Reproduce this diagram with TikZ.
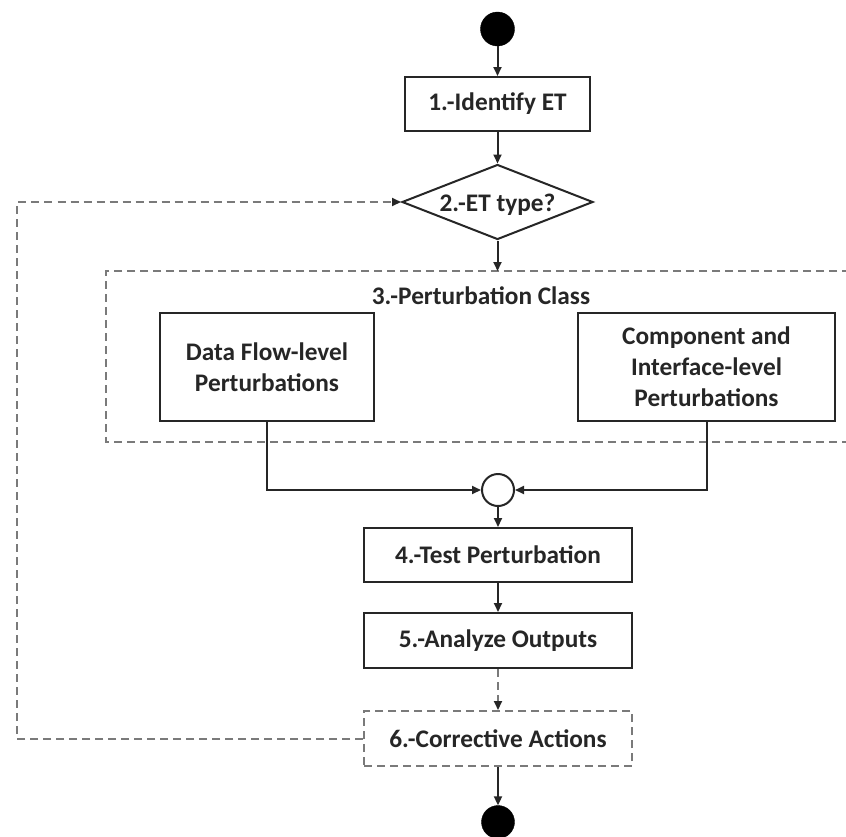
\documentclass[tikz,border=0pt]{standalone}
\usepackage{fontspec}
\setmainfont{Carlito}
\usetikzlibrary{arrows.meta,shapes.geometric}
\definecolor{lineblk}{HTML}{262626}
\definecolor{dashgray}{HTML}{7A7A7A}
\tikzset{
  txt/.style={font=\fontsize{25.3}{31}\selectfont\bfseries, text=black!85, align=center},
  box/.style={txt, draw=lineblk, line width=2pt, rectangle, inner sep=0pt, fill=white},
  dbox/.style={box, draw=dashgray, dash pattern=on 8pt off 5pt},
  decision/.style={draw=lineblk, line width=2pt, diamond, inner sep=0pt, minimum width=191pt, minimum height=75pt},
  dot/.style={circle, fill=black, draw=black, minimum size=34pt, inner sep=0pt},
  joint/.style={circle, fill=white, draw=lineblk, line width=2pt, minimum size=32pt, inner sep=0pt},
  arr/.style={draw=lineblk, line width=2pt, -{Triangle[length=9pt,width=8pt]}},
  darr/.style={draw=dashgray, line width=2pt, dash pattern=on 8pt off 5pt, -{Triangle[length=9pt,width=8pt,fill=lineblk,color=lineblk]}},
  dline/.style={draw=dashgray, line width=2pt, dash pattern=on 8pt off 5pt}
}
\begin{document}
\begin{tikzpicture}[x=1pt, y=-1pt]
\clip (0,0) rectangle (846,836);
\fill[white] (0,0) rectangle (846,836);

% group (dashed, open to the right edge)
\draw[dline] (850,271) -- (106,271) -- (106,442) -- (850,442);
\node[txt] (gtitle) at (481,296) {3.-Perturbation Class};
\coordinate (gtop) at (497.5,271);

\node[dot] (start) at (497.5,29) {};
\node[box, minimum width=185pt, minimum height=54pt] (b1) at (497.5,104) {1.-Identify ET};
\node[decision, label={[txt, yshift=-3pt]center:2.-ET type?}] (d2) at (497.5,202) {};

\node[box, minimum width=214pt, minimum height=108pt] (bDF) at (267,367) {Data Flow-level\\Perturbations};
\node[box, minimum width=257pt, minimum height=108pt] (bCI) at (706.5,367) {Component and\\Interface-level\\Perturbations};

\node[joint] (join) at (498,490) {};
\node[box, minimum width=268pt, minimum height=54pt] (b4) at (498,555) {4.-Test Perturbation};
\node[box, minimum width=268pt, minimum height=55pt] (b5) at (498,640.5) {5.-Analyze Outputs};
\node[dbox, minimum width=268pt, minimum height=55pt] (b6) at (498,738.5) {6.-Corrective Actions};
\node[dot, minimum size=33pt] (end) at (498,822) {};

\coordinate (fb) at (17,202);

\draw[arr] (start) -- (b1);
\draw[arr] (b1) -- (d2);
\draw[arr] (d2.south) -- (gtop);
\draw[arr] (bDF.south) |- (join.west);
\draw[arr] (bCI.south) |- (join.east);
\draw[arr] (join) -- (b4);
\draw[arr] (b4) -- (b5);
\draw[darr] (b5) -- (b6);
\draw[arr] (b6) -- (end);
\draw[darr] (b6.west) -| (fb) -- (d2.west);
\end{tikzpicture}
\end{document}
